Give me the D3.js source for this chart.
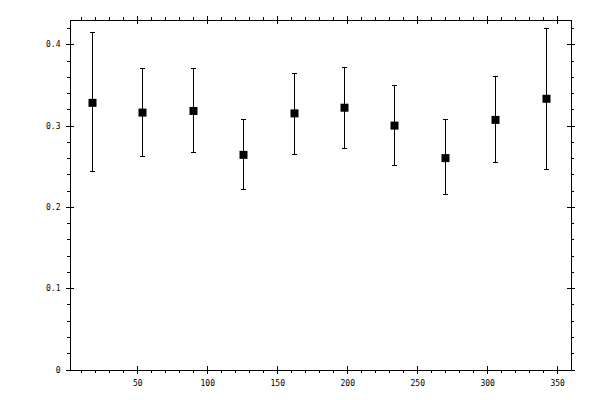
<!DOCTYPE html>
<html>
<head>
<meta charset="utf-8">
<script src="https://cdn.jsdelivr.net/npm/d3@7"></script>
<style>
  body { margin: 0; background: #fff; }
  svg { display: block; }
  .axis text { font-family: "DejaVu Sans Mono", monospace; font-size: 8px; fill: #000; }
  .axis path, .axis line { stroke: #000; stroke-width: 1; shape-rendering: crispEdges; }
</style>
</head>
<body>
<svg id="chart"></svg>
<script>
// bin centres (degrees) and measured values with error bar ends
var angles = [18, 54, 90, 126, 162, 198, 234, 270, 306, 342]
var values = [0.328, 0.316, 0.318, 0.264, 0.315, 0.322, 0.300, 0.260, 0.307, 0.333]
var upper  = [0.414, 0.370, 0.370, 0.307, 0.364, 0.372, 0.349, 0.307, 0.361, 0.419]
var lower  = [0.243, 0.262, 0.267, 0.222, 0.264, 0.272, 0.251, 0.215, 0.254, 0.246]

var xTicks = [50, 100, 150, 200, 250, 300, 350]
var yTicks = [0, 0.1, 0.2, 0.3, 0.4]
var xMinor = d3.range(10, 360, 10)
var yMinor = d3.range(0, 0.43, 0.02)

var dados = angles.map(function (a, i) {
    return {x: a, v: values[i], hi: upper[i], lo: lower[i]}
})

// set the dimensions and margins of the graph
var margin = {top: 19.5, right: 29.5, bottom: 30.5, left: 69.5},
    width = 600 - margin.left - margin.right,
    height = 400 - margin.top - margin.bottom

var chart = d3.select("#chart")
    .attr("width", 600)
    .attr("height", 400)
    .append("g")
    .attr("transform", "translate(" + margin.left + "," + margin.top + ")")

var x = d3.scaleLinear().domain([1.6, 359.5]).range([0, width])
var y = d3.scaleLinear().domain([0, 0.4305]).range([height, 0])

var yFmt = function (d) { return d === 0 ? "0" : d.toFixed(1) }

// minor ticks (outward only)
chart.append("g").attr("class", "axis")
    .attr("transform", "translate(0," + height + ")")
    .call(d3.axisBottom(x).tickValues(xMinor).tickSize(3).tickSizeOuter(0).tickFormat(""))
chart.append("g").attr("class", "axis")
    .call(d3.axisTop(x).tickValues(xMinor).tickSize(3).tickSizeOuter(0).tickFormat(""))
chart.append("g").attr("class", "axis")
    .call(d3.axisLeft(y).tickValues(yMinor).tickSize(3).tickSizeOuter(0).tickFormat(""))
chart.append("g").attr("class", "axis")
    .attr("transform", "translate(" + width + ",0)")
    .call(d3.axisRight(y).tickValues(yMinor).tickSize(3).tickSizeOuter(0).tickFormat(""))

// major ticks, outward part with labels
chart.append("g").attr("class", "axis xlab")
    .attr("transform", "translate(0," + height + ")")
    .call(d3.axisBottom(x).tickValues(xTicks).tickSize(4).tickSizeOuter(0).tickPadding(12))
chart.append("g").attr("class", "axis")
    .call(d3.axisLeft(y).tickValues(yTicks).tickSize(4).tickSizeOuter(0).tickPadding(5).tickFormat(yFmt))
chart.append("g").attr("class", "axis")
    .call(d3.axisTop(x).tickValues(xTicks).tickSize(4).tickSizeOuter(0).tickFormat(""))
chart.append("g").attr("class", "axis")
    .attr("transform", "translate(" + width + ",0)")
    .call(d3.axisRight(y).tickValues(yTicks).tickSize(4).tickSizeOuter(0).tickFormat(""))

// major ticks, inward part
chart.append("g").attr("class", "axis")
    .attr("transform", "translate(0," + height + ")")
    .call(d3.axisBottom(x).tickValues(xTicks).tickSize(-4).tickSizeOuter(0).tickFormat(""))
chart.append("g").attr("class", "axis")
    .call(d3.axisTop(x).tickValues(xTicks).tickSize(-4).tickSizeOuter(0).tickFormat(""))
chart.append("g").attr("class", "axis")
    .call(d3.axisLeft(y).tickValues(yTicks).tickSize(-4).tickSizeOuter(0).tickFormat(""))
chart.append("g").attr("class", "axis")
    .attr("transform", "translate(" + width + ",0)")
    .call(d3.axisRight(y).tickValues(yTicks).tickSize(-4).tickSizeOuter(0).tickFormat(""))

chart.selectAll(".xlab text").attr("dy", null)

// error bars
var bars = chart.append("g")
    .attr("stroke", "#000")
    .attr("stroke-width", 1)
    .attr("shape-rendering", "crispEdges")

bars.selectAll("line.v")
    .data(dados)
    .enter()
    .append("line")
    .attr("class", "v")
    .attr("x1", function (d) { return Math.round(x(d.x)) })
    .attr("x2", function (d) { return Math.round(x(d.x)) })
    .attr("y1", function (d) { return y(d.hi) })
    .attr("y2", function (d) { return y(d.lo) })

bars.selectAll("line.hi")
    .data(dados)
    .enter()
    .append("line")
    .attr("x1", function (d) { return Math.round(x(d.x)) - 2.5 })
    .attr("x2", function (d) { return Math.round(x(d.x)) + 2.5 })
    .attr("y1", function (d) { return y(d.hi) })
    .attr("y2", function (d) { return y(d.hi) })

bars.selectAll("line.lo")
    .data(dados)
    .enter()
    .append("line")
    .attr("x1", function (d) { return Math.round(x(d.x)) - 2.5 })
    .attr("x2", function (d) { return Math.round(x(d.x)) + 2.5 })
    .attr("y1", function (d) { return y(d.lo) })
    .attr("y2", function (d) { return y(d.lo) })

// square markers
chart.selectAll("rect.pt")
    .data(dados)
    .enter()
    .append("rect")
    .attr("class", "pt")
    .attr("x", function (d) { return Math.round(x(d.x)) - 4 })
    .attr("y", function (d) { return y(d.v) - 4 })
    .attr("width", 8)
    .attr("height", 8)
    .attr("fill", "#000")
</script>
</body>
</html>
